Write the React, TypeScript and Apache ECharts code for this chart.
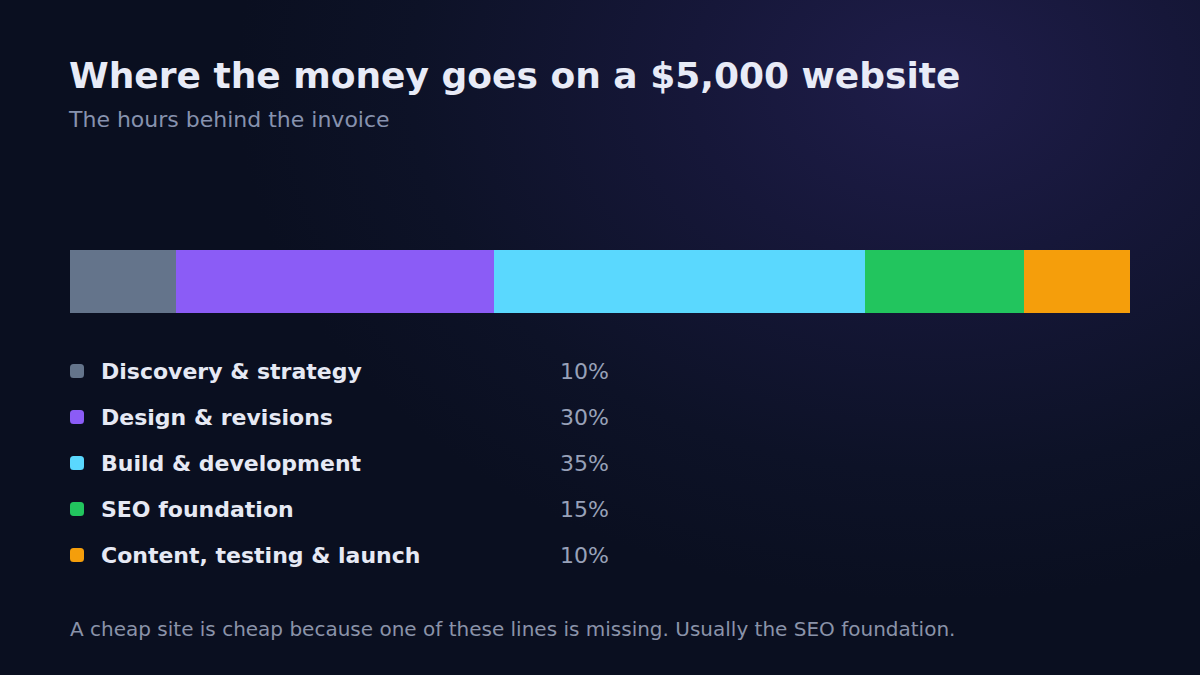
import { useRef, useEffect } from 'react';
import * as echarts from 'echarts';

const categories = [
  'Discovery & strategy',
  'Design & revisions',
  'Build & development',
  'SEO foundation',
  'Content, testing & launch',
];
const shares = [10, 30, 35, 15, 10];
const colors = ['#64748b', '#8b5cf6', '#5ad8fe', '#22c55e', '#f59e0b'];

const FONT = '"DejaVu Sans", "Noto Sans", sans-serif';

export default function App() {
  const chartRef = useRef<HTMLDivElement>(null);
  useEffect(() => {
    document.body.style.margin = '0';
    let chart: echarts.ECharts | undefined;
    if (chartRef.current) {
      chart = echarts.init(chartRef.current, undefined, { renderer: 'svg' });
      chart.setOption({
        animation: false,
        backgroundColor: 'transparent',
        textStyle: { fontFamily: FONT },
        title: [
          {
            text: 'Where the money goes on a $5,000 website',
            subtext: 'The hours behind the invoice',
            left: 69,
            top: 57,
            itemGap: 15,
            padding: 0,
            textStyle: {
              color: '#e8ebf7',
              fontSize: 36,
              fontWeight: 700,
              fontFamily: FONT,
            },
            subtextStyle: {
              color: '#8792ae',
              fontSize: 22,
              fontFamily: FONT,
            },
          },
          {
            text: 'A cheap site is cheap because one of these lines is missing. Usually the SEO foundation.',
            left: 70,
            top: 619,
            padding: 0,
            textStyle: {
              color: '#8a93a9',
              fontSize: 20,
              fontWeight: 400,
              fontFamily: FONT,
            },
          },
        ],
        grid: { left: 70, right: 70, top: 250, height: 63 },
        xAxis: {
          type: 'value',
          min: 0,
          max: 100,
          show: false,
        },
        yAxis: {
          type: 'category',
          data: ['Invoice'],
          show: false,
        },
        legend: {
          orient: 'vertical',
          left: 70,
          top: 360,
          padding: 0,
          selectedMode: false,
          icon: 'roundRect',
          itemWidth: 14,
          itemHeight: 14,
          itemGap: 24,
          data: categories,
          formatter: (name: string) => {
            const i = categories.indexOf(name);
            return `{n|${name}}{p|${shares[i]}%}`;
          },
          textStyle: {
            padding: [0, 0, 0, 12],
            rich: {
              n: {
                width: 459,
                color: '#e6e9f4',
                fontSize: 22,
                fontWeight: 700,
                fontFamily: FONT,
              },
              p: {
                color: '#98a1b8',
                fontSize: 22,
                fontWeight: 400,
                fontFamily: FONT,
              },
            },
          },
        },
        series: categories.map((name, i) => ({
          name,
          type: 'bar',
          stack: 'total',
          barWidth: '100%',
          data: [shares[i]],
          itemStyle: { color: colors[i] },
          emphasis: { disabled: true },
        })),
      });
    }
    return () => {
      chart?.dispose();
    };
  }, []);

  return (
    <div
      ref={chartRef}
      style={{
        width: 1200,
        height: 675,
        background:
          'radial-gradient(ellipse 700px 520px at 78% 12%, #1f1d4a 0%, #161739 35%, #0d1227 75%, #0a0f20 100%)',
      }}
    />
  );
}
